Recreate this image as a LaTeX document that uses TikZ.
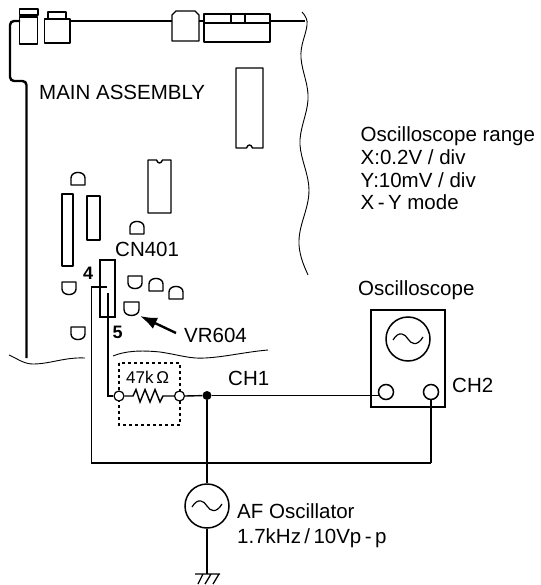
\documentclass[tikz,border=0pt]{standalone}
\usepackage{fontspec}
\setmainfont{Liberation Sans}
\usetikzlibrary{arrows.meta}
\tikzset{
  x=1pt,y=-1pt,
  part/.style={line width=1.4pt,line join=round},
  wire/.style={line width=1.4pt},
  board/.style={line width=2.4pt},
  thinwave/.style={line width=0.9pt},
  lbl/.style={inner sep=0,anchor=base west,font=\fontsize{20.5}{24}\selectfont},
  term/.style={circle,draw,line width=1.5pt,fill=white,minimum size=15pt,inner sep=0},
  smallterm/.style={circle,draw,line width=1.2pt,fill=white,minimum size=10pt,inner sep=0},
  dot/.style={circle,fill=black,minimum size=9pt,inner sep=0},
  bigc/.style={circle,draw,line width=1.5pt,minimum size=44pt,inner sep=0},
  dashbox/.style={line width=1.3pt,dash pattern=on 3pt off 3pt},
}
\newcommand{\domeic}[3]{%
  \draw[part] (#1,#2+#3) -- (#1+#3,#2+#3) -- (#1+#3,#2+#3*0.5) .. controls (#1+#3,#2-#3*0.03) and (#1,#2-#3*0.03) .. (#1,#2+#3*0.5) -- cycle;}
\newcommand{\cupic}[3]{%
  \draw[part] (#1,#2) -- (#1+#3,#2) -- (#1+#3,#2+#3*0.5) .. controls (#1+#3,#2+#3*1.03) and (#1,#2+#3*1.03) .. (#1,#2+#3*0.5) -- cycle;}
\newcommand{\sinewave}[2]{%
  \draw[line width=1.2pt] (#1-15,#2+1) .. controls (#1-9,#2-9) and (#1-3,#2-5) .. (#1,#2) .. controls (#1+3,#2+5) and (#1+9,#2+8) .. (#1+15,#2-2);}
\begin{document}
\begin{tikzpicture}
\useasboundingbox (0,0) rectangle (540,585);
\fill[white] (0,0) rectangle (540,585);
% board outline
\draw[board,rounded corners=4pt] (20,21) -- (10,21) -- (10,81) -- (26.5,81) -- (26.5,358);
\draw[line width=1.8pt] (70,21) -- (172,21) (199,21) -- (204,21) (270,21) -- (305,21);
% top connectors
\draw[part] (19.5,17) rectangle (37.5,44);
\draw[part] (19.5,15) -- (19.5,9) -- (38,9) -- (38,15) -- cycle;
\draw[part] (44.5,19) rectangle (70,43);
\draw[part] (48,19) -- (48,12) -- (66,12) -- (66,19);
\draw[part] (172,41) -- (172,15) -- (176,11) -- (195,11) -- (199,15) -- (199,41) -- cycle;
\draw[part] (204,14) rectangle (270,42);
\draw[part] (204,23) -- (270,23) (231,14) -- (231,23) (245,14) -- (245,23);
% ICs
\draw[part] (236,68) -- (263,68) -- (263,148) -- (252.5,148) .. controls (251,144) and (248,144) .. (246.5,148) -- (236,148) -- cycle;
\draw[part] (148,160) -- (156.5,160) .. controls (158,164) and (161,164) .. (162.5,160) -- (171,160) -- (171,213) -- (148,213) -- cycle;
\draw[part] (62,194) rectangle (73,266);
\draw[part] (87,196) rectangle (100,240);
% transistors
\domeic{71}{171}{14}
\domeic{130}{220}{14}
\cupic{62}{282}{14}
\cupic{128}{276}{14}
\domeic{149}{277}{14}
\domeic{169}{285}{14}
\cupic{124}{302}{15}
\cupic{71}{327}{14}
% CN401
\node[draw,line width=1.3pt,minimum width=15pt,minimum height=57pt,inner sep=0] (cn) at (107.5,288.5) {};
\coordinate (p4) at (107,287);
\coordinate (p5) at (108,293);
% wavy breaks
\draw[thinwave] (302,12) .. controls (305,15) and (308,20) .. (307,25) .. controls (306,35) and (300,45) .. (301,58) .. controls (302,72) and (309,85) .. (308,100) .. controls (307,115) and (299,130) .. (300,145) .. controls (301,160) and (309,175) .. (309,190) .. controls (309,210) and (298,225) .. (299,245) .. controls (300,258) and (305,268) .. (308,275);
\draw[thinwave] (9,355) .. controls (18,359) and (24,364) .. (33,364) .. controls (50,364) and (65,357) .. (85,358);
\draw[thinwave] (113,356) .. controls (125,351) and (140,350) .. (160,352) .. controls (180,355) and (190,359) .. (205,358) .. controls (225,357) and (245,352) .. (268,350);
% labels
\node[lbl] at (39,100) {MAIN ASSEMBLY};
\node[lbl] at (360.5,141.7) {Oscilloscope range};
\node[lbl] at (360.5,164.5) {X:0.2V / div};
\node[lbl] at (360.5,187) {Y:10mV / div};
\node[lbl] at (360.5,209) {X\,-\,Y mode};
\node[lbl] at (115,256) {CN401};
\node[lbl,font=\fontsize{18}{20}\selectfont\bfseries] at (83,279) {4};
\node[lbl,font=\fontsize{18}{20}\selectfont\bfseries] at (112.5,338) {5};
\node[lbl] at (184,342) {VR604};
\node[lbl,font=\fontsize{17}{20}\selectfont] at (126,383) {47k$\,$Ω};
\node[lbl] at (228,385) {CH1};
\node[lbl] at (358,295) {Oscilloscope};
\node[lbl] at (452,392) {CH2};
\node[lbl] at (237,518) {AF Oscillator};
\node[lbl] at (237,543) {1.7kHz\,/\,10Vp\,-\,p};
% arrow
\coordinate (vrtail) at (176,333);
\coordinate (vrhead) at (140,316);
\draw[line width=2.4pt,-{Latex[length=17pt,width=12pt]}] (vrtail) -- (vrhead);
% dashed box
\draw[dashbox] (119,363) rectangle (180,425);
% oscilloscope
\node[draw,line width=1.5pt,minimum width=74pt,minimum height=97pt,inner sep=0] (scope) at (408,358.5) {};
\node[bigc] (screen) at (408,339) {};
\sinewave{408}{339}
% AF oscillator
\node[bigc] (af) at (207,506) {};
\sinewave{207}{506}
% wiring
\coordinate (bend5) at (108,396);
\coordinate (bend4) at (91.5,287);
\coordinate (corner4) at (91.5,463);
\coordinate (corner2) at (431,463);
\coordinate (gnd) at (207,574);
\draw[wire] (p4) -- (bend4) -- (corner4) -- (corner2);
\node[smallterm] (r1) at (119,396) {};
\node[smallterm] (r2) at (179.5,396) {};
\node[dot] (j) at (207,395.5) {};
\node[term] (ch1) at (386,392) {};
\node[term] (ch2) at (431,392) {};
\draw[wire] (corner2) -- (ch2.south);
\draw[wire] (p5) -- (bend5) -- (r1.west);
\draw[wire] (r1.east) -- (133,396) -- (136,389.5) -- (140,402) -- (145,389.5) -- (150,402) -- (155,389.5) -- (160,402) -- (163,396) -- (r2.west);
\draw[wire] (r2.east) -- (j);
\draw[wire] (j.east) -- (j.east -| ch1.205);
\draw[wire] (j.south) -- (af.north);
\draw[wire] (af.south) -- (gnd);
% ground
\draw[line width=1.3pt] (195,574) -- (220,574) (203,574) -- (198,584) (211,574) -- (205,584) (219,574) -- (213,584);
\end{tikzpicture}
\end{document}
